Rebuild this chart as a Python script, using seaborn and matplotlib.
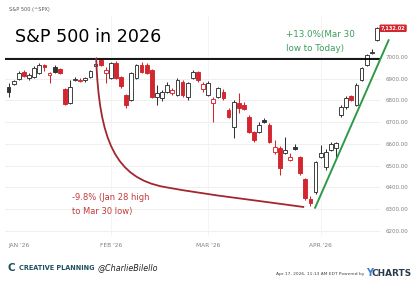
import numpy as np
import pandas as pd
import matplotlib
matplotlib.use("Agg")
import matplotlib.pyplot as plt
import seaborn as sns
from matplotlib.path import Path
from matplotlib.patches import PathPatch
import matplotlib.transforms as mtransforms

# ---------------- data ----------------
holidays = ["2026-01-19", "2026-02-16", "2026-04-03"]
trade_dates = [d for d in pd.bdate_range("2026-01-02", "2026-04-17")
               if d.strftime("%Y-%m-%d") not in holidays]

open_ = [6862, 6876, 6899, 6931, 6903, 6908, 6926, 6963, 6917, 6954,
         6945, 6853, 6788, 6895, 6890, 6894, 6908, 6958, 6986, 6926,
         6903, 6972, 6908, 6825, 6802, 6903, 6963, 6963, 6940, 6816,
         6811, 6839, 6834, 6825, 6885, 6816, 6903, 6931, 6853, 6825,
         6788, 6816, 6839, 6756, 6678, 6788, 6779, 6724, 6655, 6655,
         6710, 6687, 6563, 6581, 6558, 6526, 6586, 6540, 6439, 6347,
         6379, 6540, 6494, 6572, 6581, 6733, 6770, 6820, 6779, 6894,
         6963, 7018, 7080]
high = [6880, 6895, 6935, 6940, 6926, 6958, 6972, 6967, 6931, 6963,
        6949, 6858, 6894, 6908, 6903, 6908, 6940, 7002, 6995, 6954,
        6975, 6980, 6913, 6830, 6931, 6967, 6975, 6972, 6945, 6871,
        6848, 6885, 6858, 6903, 6894, 6885, 6940, 6936, 6885, 6890,
        6816, 6862, 6853, 6765, 6802, 6834, 6793, 6733, 6660, 6701,
        6720, 6696, 6618, 6590, 6632, 6558, 6600, 6545, 6443, 6360,
        6522, 6595, 6577, 6609, 6609, 6779, 6820, 6825, 6880, 6954,
        7013, 7037, 7140]
low = [6816, 6871, 6894, 6908, 6894, 6903, 6922, 6935, 6880, 6926,
       6922, 6779, 6784, 6890, 6885, 6885, 6903, 6954, 6958, 6880,
       6899, 6899, 6858, 6765, 6797, 6899, 6926, 6922, 6811, 6779,
       6797, 6834, 6825, 6820, 6816, 6802, 6899, 6885, 6839, 6820,
       6701, 6811, 6802, 6720, 6627, 6742, 6756, 6650, 6609, 6650,
       6696, 6604, 6554, 6457, 6554, 6521, 6572, 6457, 6342, 6316,
       6370, 6535, 6480, 6567, 6540, 6724, 6761, 6797, 6774, 6890,
       6958, 7013, 7074]
close_ = [6839, 6890, 6926, 6913, 6917, 6949, 6963, 6954, 6926, 6931,
          6926, 6784, 6862, 6899, 6894, 6903, 6936, 6967, 6963, 6940,
          6972, 6903, 6867, 6779, 6926, 6963, 6931, 6928, 6816, 6834,
          6838, 6871, 6848, 6894, 6825, 6880, 6931, 6894, 6876, 6880,
          6807, 6857, 6811, 6724, 6793, 6765, 6761, 6655, 6618, 6687,
          6701, 6609, 6586, 6489, 6572, 6540, 6577, 6466, 6351, 6330,
          6517, 6558, 6563, 6600, 6604, 6770, 6811, 6802, 6871, 6949,
          7009, 7023, 7132.02]

month_labels = ["JAN '26", "FEB '26", "MAR '26", "APR '26"]
y_ticks = [6200, 6300, 6400, 6500, 6600, 6700, 6800, 6900, 7000]
resistance_level = 6990
jan28_high = 7002
mar30_low = 6316
last_price = 7132.02

df = pd.DataFrame({"date": trade_dates, "open": open_, "high": high,
                   "low": low, "close": close_})
df["idx"] = np.arange(len(df))
prev_close = df["close"].shift(1).fillna(-np.inf)

RED = "#d3262e"
DARK = "#333333"
df["color"] = np.where(df["close"] >= prev_close, DARK, RED)
df["filled"] = df["close"] < df["open"]

# ---------------- figure ----------------
sns.set_theme(style="white")
plt.rcParams["font.family"] = ["DejaVu Sans"]

W, H = 420, 283
fig = plt.figure(figsize=(W / 100, H / 100), dpi=100)
fig.patch.set_facecolor("white")
ax = fig.add_axes([5 / W, 1 - 236 / H, 375 / W, 221 / H])
ax.set_facecolor("white")
for s in ax.spines.values():
    s.set_visible(False)

# month starts
month_idx = df.groupby(df["date"].dt.month)["idx"].min().tolist()

# grid
for v in y_ticks:
    ax.axhline(v, color="#ececec", lw=0.6, zorder=0)
for m in month_idx[1:]:
    ax.axvline(m, color="#f2f2f2", lw=0.6, zorder=0)

# wicks
ax.vlines(df["idx"], df["low"], df["high"], colors=df["color"], lw=0.75, zorder=2)
# bodies
body_bottom = np.minimum(df["open"], df["close"])
body_h = np.maximum(np.abs(df["close"] - df["open"]), 2.5)
faces = [c if f else "white" for c, f in zip(df["color"], df["filled"])]
ax.bar(df["idx"], body_h, bottom=body_bottom, width=0.74, color=faces,
       edgecolor=df["color"], linewidth=0.65, zorder=3)

ax.set_xlim(-0.7, 72.6)
ax.set_ylim(6177, 7193)

# axes ticks
ax.yaxis.tick_right()
ax.set_yticks(y_ticks)
ax.set_yticklabels([f"{v:.2f}" for v in y_ticks])
ax.tick_params(axis="y", length=0, pad=4, labelsize=4, labelcolor="#808080")
ax.set_xticks(month_idx)
ax.set_xticklabels(month_labels)
ax.tick_params(axis="x", length=0, pad=5, labelsize=4.2, labelcolor="#808080")
ax.get_xticklabels()[0].set_horizontalalignment("left")
ax.set_xlabel("")
ax.set_ylabel("")

# black resistance line
ax.axhline(resistance_level, color="black", lw=1.3, zorder=4)

# red decline curve (Jan 28 high -> Mar 30 low)
verts = [(17.12, jan28_high - 7), (17.70, 6618), (20.82, 6443), (30.54, 6402),
         (40.27, 6361), (48.05, 6342), (57.78, mar30_low - 6)]
codes = [Path.MOVETO] + [Path.CURVE4] * 6
ax.add_patch(PathPatch(Path(verts, codes), fc="none", ec="#a3262f", lw=1.3,
                       zorder=5))

# green rally line
ax.plot([59.9, 74.3], [6306, 7078], color="#2e9a48", lw=1.4, zorder=5,
        clip_on=False)

# annotations
ax.text(12.3, 6376, "-9.8% (Jan 28 high\nto Mar 30 low)", color="#c23b3b",
        fontsize=6, ha="left", va="top", linespacing=1.75, zorder=6)
ax.text(54.3, 7124, "+13.0%(Mar 30\nlow to Today)", color="#3c9d5d",
        fontsize=6.3, ha="left", va="top", linespacing=1.65, zorder=6)

# last price tag
trans = mtransforms.blended_transform_factory(ax.transAxes, ax.transData)
ax.text(1.035, last_price, f"{last_price:,.2f}", transform=trans, ha="center",
        va="center", fontsize=3.6, color="white", fontweight="bold",
        bbox=dict(boxstyle="round,pad=0.25", fc=RED, ec="none"), zorder=7,
        clip_on=False)

# title & header
fig.text(15 / W, 1 - 37 / H, "S&P 500 in 2026", fontsize=12.6, color="black",
         ha="left", va="center")
fig.text(9 / W, 1 - 10 / H, "S&P 500 (^SPX)", fontsize=3.6, color="#555555",
         ha="left", va="center")

# footer
fig.text(8 / W, 1 - 268 / H, "C", fontsize=7.5, fontweight="bold",
         color="#1f5060", ha="left", va="center")
fig.text(19 / W, 1 - 268 / H, "CREATIVE PLANNING", fontsize=4.7,
         fontweight="bold", color="#1f5060", ha="left", va="center")
fig.text(98 / W, 1 - 268 / H, "@CharlieBilello", fontsize=5.8,
         style="italic", color="#222222", ha="left", va="center")
fig.text(364 / W, 1 - 274 / H, "Apr 17, 2026, 11:13 AM EDT Powered by",
         fontsize=3.2, color="#444444", ha="right", va="center")
fig.text(366 / W, 1 - 273 / H, "Y", fontsize=7, fontweight="bold",
         color="#3d7fd0", ha="left", va="center")
fig.text(372 / W, 1 - 273 / H, "CHARTS", fontsize=6.4, fontweight="bold",
         color="#2b3a4a", ha="left", va="center")

fig.savefig("out.png", dpi=100, facecolor="white")
